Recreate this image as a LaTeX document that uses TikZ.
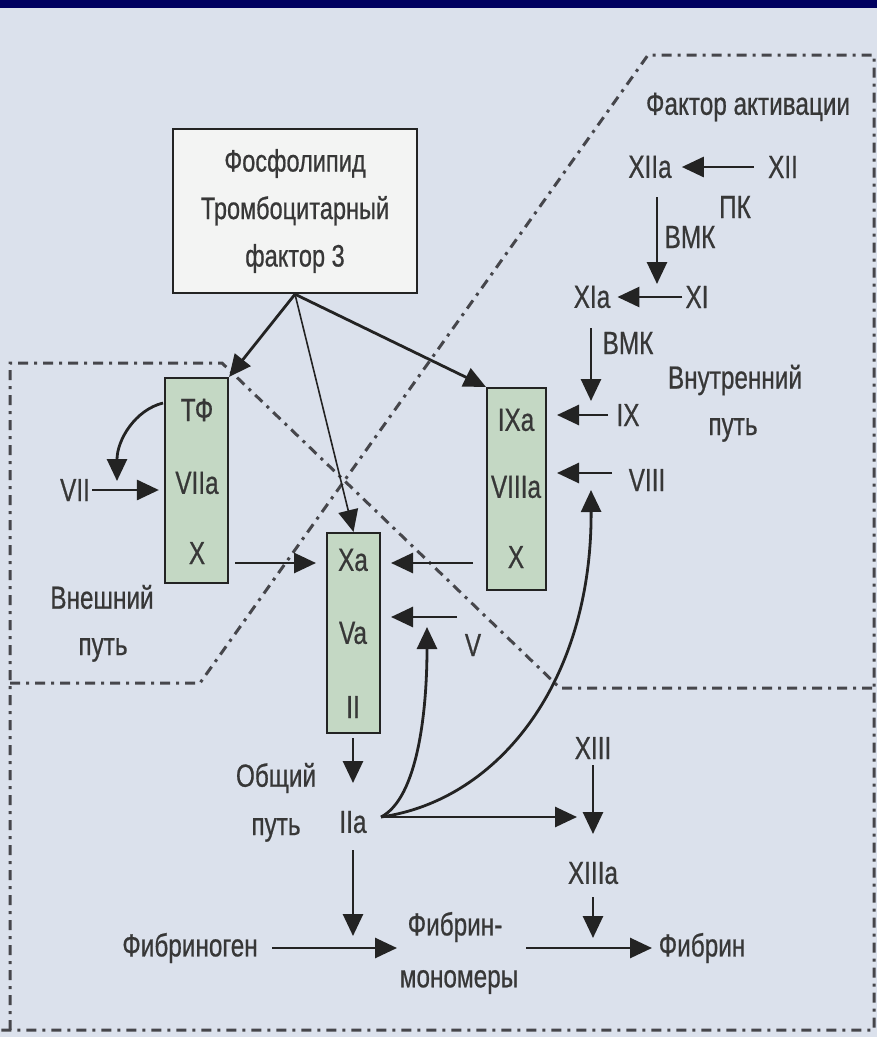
\documentclass[tikz,border=0pt]{standalone}
\usepackage{fontspec}
\setmainfont{Liberation Sans}[FakeStretch=0.76,FakeBold=0.6]
\usetikzlibrary{arrows.meta,calc}
\definecolor{bg}{RGB}{219,225,236}
\definecolor{navy}{RGB}{0,0,96}
\definecolor{gfill}{RGB}{196,216,196}
\definecolor{ink}{RGB}{35,35,35}
\definecolor{txt}{RGB}{55,55,55}
\definecolor{wfill}{RGB}{243,244,243}
\definecolor{zgray}{RGB}{70,70,75}
\begin{document}
\begin{tikzpicture}[x=1pt,y=-1pt,
  lbl/.style={text=txt,inner sep=0pt,font=\fontsize{32}{36}\selectfont},
  gbox/.style={draw=ink,line width=2.2pt,fill=gfill},
  topbox/.style={draw=ink,line width=2.4pt,fill=wfill,minimum width=244pt,minimum height=164pt,align=center,inner sep=0pt,text=txt,font=\fontsize{31}{47.5}\selectfont},
  arr/.style={draw=ink,line width=2.8pt,-{Triangle[length=22pt,width=20pt]}},
  zone/.style={draw=zgray,line width=3pt,dash pattern=on 10pt off 6pt on 3pt off 6pt}]
\fill[bg] (0,0) rectangle (877,1037);
\fill[navy] (0,0) rectangle (877,8);
\useasboundingbox (0,0) rectangle (877,1037);
% zones
\draw[zone] (10,1030) -- (10,363) -- (222,363) -- (560,688) -- (874,688);
\draw[zone] (10,683) -- (200,683) -- (648,55) -- (874,55) -- (874,1030) -- (0,1030);
% top box
\node[topbox] (pl) at (295,211) {Фосфолипид\\Тромбоцитарный\\фактор 3};
% green boxes
\node[gbox,minimum width=63pt,minimum height=205pt] (A) at (196.5,480.5) {};
\node[lbl] (tf) at (197,410) {ТФ};
\node[lbl] (vIIa) at (197,483) {VIIa};
\node[lbl] (xA) at (197,553) {X};
\node[gbox,minimum width=53pt,minimum height=200pt] (B) at (353.5,633) {};
\node[lbl] (xa) at (353,560) {Xa};
\node[lbl] (va) at (353,633) {Va};
\node[lbl] (ii) at (353,707) {II};
\node[gbox,minimum width=59pt,minimum height=202pt] (C) at (516.5,489) {};
\node[lbl] (ixa) at (516,420) {IXa};
\node[lbl] (viiia) at (516,487) {VIIIa};
\node[lbl] (xC) at (516,557) {X};
% labels
\node[lbl] (VII) at (75,490) {VII};
\node[lbl] (vn1) at (102,597) {Внешний};
\node[lbl] (vn2) at (103,650) {путь};
\node[lbl] (V) at (473,645) {V};
\node[lbl] (fa) at (748,107) {Фактор активации};
\node[lbl] (XIIa) at (650,167) {XIIa};
\node[lbl] (XII) at (783,167) {XII};
\node[lbl] (PK) at (735,207) {ПК};
\node[lbl] (BMK1) at (690,237) {ВМК};
\node[lbl] (XIa) at (592,297) {XIa};
\node[lbl] (XI) at (697,297) {XI};
\node[lbl] (BMK2) at (628,343) {ВМК};
\node[lbl] (IX) at (628,415) {IX};
\node[lbl] (VIII) at (647,480) {VIII};
\node[lbl] (vt1) at (735,380) {Внутренний};
\node[lbl] (vt2) at (733,430) {путь};
\node[lbl] (ob1) at (276,778) {Общий};
\node[lbl] (ob2) at (276,830) {путь};
\node[lbl] (IIa) at (353,822) {IIa};
\node[lbl] (XIII) at (593,748) {XIII};
\node[lbl] (XIIIa) at (593,873) {XIIIa};
\node[lbl] (fgen) at (190,948) {Фибриноген};
\node[lbl] (fm1) at (455,927) {Фибрин-};
\node[lbl] (fm2) at (459,982) {мономеры};
\node[lbl] (fib) at (702,948) {Фибрин};
% coordinates
\coordinate (tfs) at (163,403);
\coordinate (tfe) at (117,481);
\coordinate (ab1) at (235,563);
\coordinate (ab2) at (316,563);
\coordinate (cb1) at (473,563);
\coordinate (cb2) at (391,563);
\coordinate (vb1) at (457,617);
\coordinate (vb2) at (391,617);
\coordinate (v1a) at (657,197);
\coordinate (v1b) at (657,284);
\coordinate (v2a) at (591,328);
\coordinate (v2b) at (591,401);
\coordinate (ix1) at (608,415);
\coordinate (ix2) at (557,415);
\coordinate (vi1) at (612,473);
\coordinate (vi2) at (557,473);
\coordinate (iia) at (381,817);
\coordinate (up1) at (427,627);
\coordinate (up2) at (591,490);
\coordinate (xr) at (577,817);
\coordinate (bs1) at (353,738);
\coordinate (bs2) at (353,783);
\coordinate (x13a) at (593,765);
\coordinate (x13b) at (593,834);
\coordinate (x13c) at (593,897);
\coordinate (x13d) at (593,938);
\coordinate (iid1) at (353,850);
\coordinate (iid2) at (353,936);
\coordinate (fg1) at (272,948);
\coordinate (fg2) at (397,948);
\coordinate (fb1) at (526,948);
\coordinate (fb2) at (652,948);
% arrows from top box
\draw[arr] (pl.south) -- (A.north east);
\draw[arr,line width=1.6pt] (pl.south) -- (B.north);
\draw[arr] (pl.south) -- (C.north west);
% extrinsic
\draw[arr] (tfs) .. controls (135,410) and (117,440) .. (tfe);
\draw[arr,shorten <=2pt] (VII.east) -- ($(A.west |- VII)+(-5,0)$);
\draw[arr] (ab1) -- (ab2);
\draw[arr] (cb1) -- (cb2);
\draw[arr] (vb1) -- (vb2);
% intrinsic
\draw[arr] ([xshift=-14pt]XII.west) -- ([xshift=10pt]XIIa.east);
\draw[arr] (v1a) -- (v1b);
\draw[arr] ([xshift=-3pt]XI.west) -- ([xshift=7pt]XIa.east);
\draw[arr] (v2a) -- (v2b);
\draw[arr] (ix1) -- (ix2);
\draw[arr] (vi1) -- (vi2);
% common
\draw[arr] (bs1) -- (bs2);
\draw[arr] (iia) .. controls (418,798) and (427,710) .. (up1);
\draw[arr] (iia) .. controls (500,800) and (592,680) .. (up2);
\draw[arr] (iia) -- (xr);
\draw[arr] (x13a) -- (x13b);
\draw[arr] (x13c) -- (x13d);
\draw[arr] (iid1) -- (iid2);
\draw[arr] (fg1) -- (fg2);
\draw[arr] (fb1) -- (fb2);
\end{tikzpicture}
\end{document}
